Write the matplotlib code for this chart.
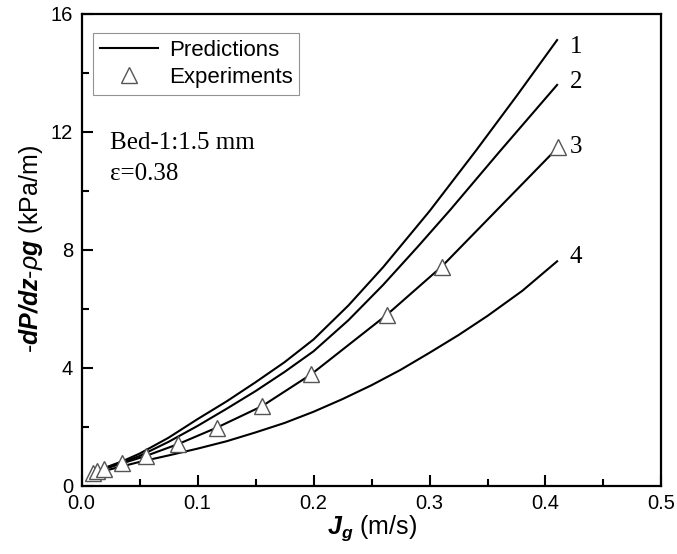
import matplotlib.pyplot as plt
import numpy as np

plt.rcParams['font.family'] = 'Liberation Sans'
plt.rcParams['mathtext.fontset'] = 'custom'
plt.rcParams['mathtext.rm'] = 'Liberation Sans'
plt.rcParams['mathtext.it'] = 'Liberation Sans:italic'
plt.rcParams['mathtext.bf'] = 'Liberation Sans:bold'
plt.rcParams['mathtext.bfit'] = 'Liberation Sans:bold:italic'

# predictions, curves 1, 2 and 4
x1 = [0.01, 0.02, 0.035, 0.05, 0.075, 0.1, 0.125, 0.15, 0.175, 0.2, 0.23, 0.26, 0.3, 0.34, 0.375, 0.41]
y1 = [0.45, 0.6, 0.82, 1.08, 1.62, 2.25, 2.85, 3.5, 4.18, 4.95, 6.1, 7.4, 9.3, 11.35, 13.2, 15.1]
x2 = [0.01, 0.02, 0.035, 0.05, 0.075, 0.1, 0.125, 0.15, 0.175, 0.2, 0.23, 0.26, 0.29, 0.318, 0.36, 0.41]
y2 = [0.45, 0.58, 0.78, 1.0, 1.48, 2.02, 2.6, 3.2, 3.85, 4.55, 5.6, 6.8, 8.1, 9.35, 11.3, 13.58]
x4 = [0.01, 0.02, 0.035, 0.05, 0.075, 0.1, 0.125, 0.15, 0.175, 0.2, 0.225, 0.25, 0.275, 0.3, 0.325, 0.35, 0.38, 0.41]
y4 = [0.42, 0.5, 0.65, 0.8, 1.02, 1.25, 1.5, 1.8, 2.12, 2.5, 2.93, 3.4, 3.92, 4.5, 5.1, 5.75, 6.6, 7.6]

# experiments (curve 3)
x3 = [0.0096, 0.013, 0.0197, 0.035, 0.0553, 0.083, 0.1165, 0.1556, 0.198, 0.263, 0.3105, 0.411]
y3 = [0.43, 0.5, 0.56, 0.75, 1.0, 1.4, 1.96, 2.69, 3.77, 5.78, 7.42, 11.47]

fig = plt.figure(figsize=(6.77, 5.54), dpi=100)
ax = fig.add_axes([0.1204, 0.1236, 0.8567, 0.852])

lw = 1.5
ax.plot(x1, y1, color='black', lw=lw, label='Predictions')
ax.plot(x2, y2, color='black', lw=lw)
ax.plot(x3, y3, color='black', lw=lw)
ax.plot(x4, y4, color='black', lw=lw)
ax.plot(x3, y3, ls='none', marker='^', ms=11, mfc='white', mec='#555555',
        mew=1.0, label='Experiments')

ax.set_xlim(0, 0.5)
ax.set_ylim(0, 16)
ax.set_xticks([0.0, 0.1, 0.2, 0.3, 0.4, 0.5])
ax.set_xticklabels(['0.0', '0.1', '0.2', '0.3', '0.4', '0.5'])
ax.set_xticks(np.arange(0.05, 0.5, 0.1), minor=True)
ax.set_yticks([0, 4, 8, 12, 16])
ax.set_yticks([2, 6, 10, 14], minor=True)
ax.tick_params(which='both', direction='in', top=False, right=False,
               labelsize=14.5, width=1.5, colors='black')
ax.tick_params(which='major', length=8, pad=6)
ax.tick_params(which='minor', length=5)
for s in ax.spines.values():
    s.set_linewidth(1.6)

ax.set_xlabel(r'$\mathbfit{J_g}$ (m/s)', fontsize=18, labelpad=0)
ax.set_ylabel(r'-$\mathbfit{dP/dz}$-$\mathit{\rho}\mathbfit{g}$ (kPa/m)',
              fontsize=18, labelpad=4)

leg = ax.legend(loc='upper left', bbox_to_anchor=(0.02, 0.959), fontsize=16,
                frameon=True, fancybox=False, borderpad=0.3, handlelength=2.6,
                handletextpad=0.5, labelspacing=0.3, borderaxespad=0)
leg.get_frame().set_edgecolor('#777777')
leg.get_frame().set_linewidth(0.8)

ax.text(0.0246, 11.6, 'Bed-1:1.5 mm', fontsize=18, family='Liberation Serif', va='center')
ax.text(0.0246, 10.55, 'ε=0.38', fontsize=18, family='Liberation Serif', va='center')

for lab, yy in zip(['1', '2', '3', '4'], [14.86, 13.68, 11.47, 7.75]):
    ax.text(0.421, yy, lab, fontsize=18, family='Liberation Serif', va='center')

fig.savefig('out.png', dpi=100)
